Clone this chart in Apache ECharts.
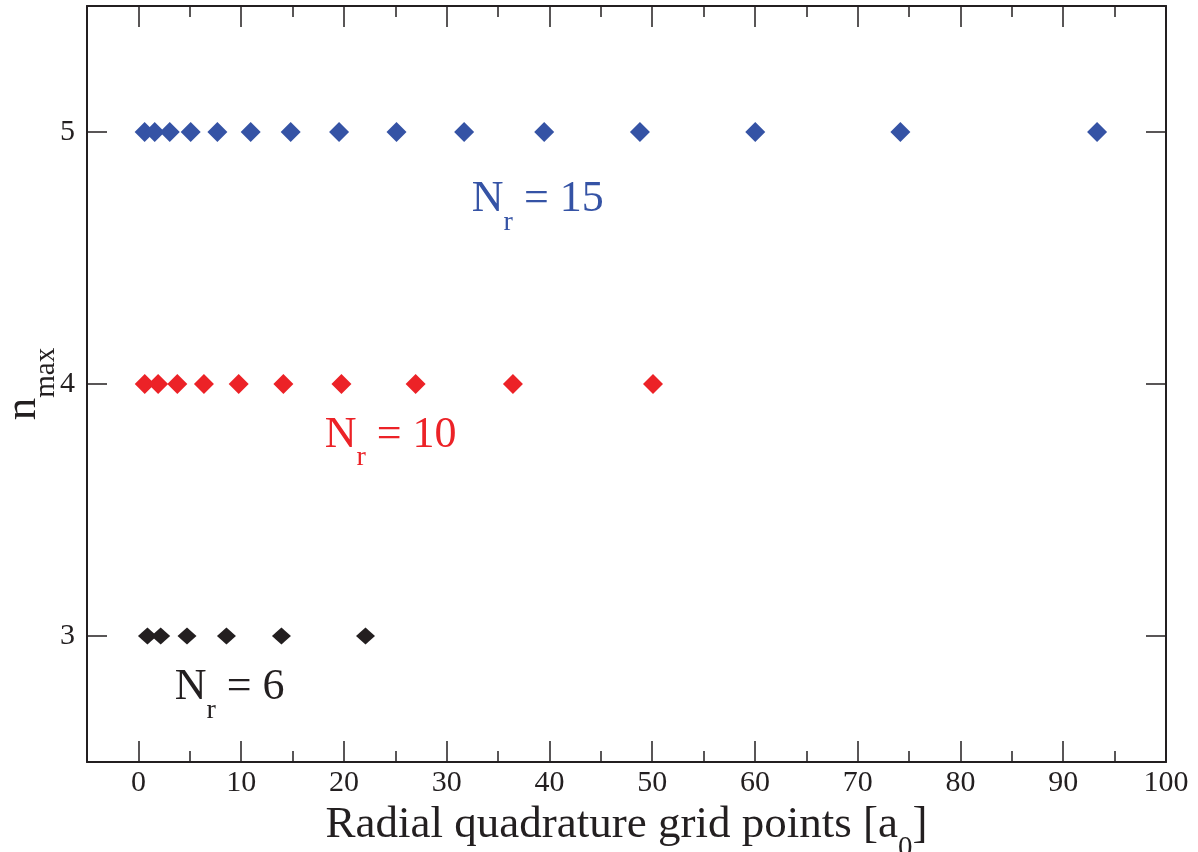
<!DOCTYPE html>
<html>
<head>
<meta charset="utf-8">
<script src="https://cdn.jsdelivr.net/npm/echarts@6/dist/echarts.min.js"></script>
<style>
  html, body { margin: 0; padding: 0; background: #fff; }
  #chart { width: 1198px; height: 852px; }
</style>
</head>
<body>
<div id="chart"></div>
<script>
// quadrature grid points (a0) for each n_max
const nmax = [3, 4, 5]
const pointsNr6 = [0.88, 2.17, 4.73, 8.57, 13.92, 22.1]
const pointsNr10 = [0.62, 1.92, 3.79, 6.38, 9.76, 14.11, 19.76, 26.98, 36.45, 50.08]
const pointsNr15 = [0.61, 1.59, 3.05, 5.09, 7.69, 10.93, 14.82, 19.53, 25.12, 31.7, 39.49, 48.81, 60.03, 74.15, 93.29]

const xMajorTicks = [0, 10, 20, 30, 40, 50, 60, 70, 80, 90, 100]
const xMinorTicks = [5, 15, 25, 35, 45, 55, 65, 75, 85, 95]
const yTicks = [3, 4, 5]

// annotation text and where the N sits (x, y in data units, baseline)
const labelNr = ['6', '10', '15']
const labelX = [3.53, 18.13, 32.45]
const labelY = [2.736, 3.738, 4.673]

const ink = '#231f20'
const colors = ['#231f20', '#ec2227', '#3553a5']
const serif = 'Liberation Serif, Times New Roman, serif'

const richSub = {
  n: { fontSize: 44, lineHeight: 44, fontFamily: serif, verticalAlign: 'top' },
  s: { fontSize: 28, lineHeight: 28, fontFamily: serif, verticalAlign: 'top', padding: [31, 0, 0, 0] },
}
const richTitle = {
  n: { ...richSub.n, fontSize: 45 },
  s: { ...richSub.s, fontSize: 29 },
}

const chart = echarts.init(document.getElementById('chart'))

const xBase = { type: 'value', min: -5, max: 100, splitLine: { show: false } }
const yBase = { type: 'value', min: 2.5, max: 5.5, splitLine: { show: false } }
const axisLine = { show: true, onZero: false, lineStyle: { color: ink, width: 2 } }
const noLine = { show: false, onZero: false }
const tickLine = { color: ink, width: 1.5 }

const series = [pointsNr6, pointsNr10, pointsNr15].map((pts, i) => ({
  type: 'scatter',
  xAxisIndex: 0,
  yAxisIndex: 0,
  symbol: 'diamond',
  symbolSize: i === 0 ? [19, 17] : [20, 20],
  itemStyle: { color: colors[i], opacity: 1 },
  data: pts.map((x) => [x, nmax[i]]),
}))

chart.setOption({
  animation: false,
  grid: { left: 87, right: 32, top: 6, bottom: 90, containLabel: false, outerBoundsMode: 'none' },
  xAxis: [
    {
      ...xBase, position: 'bottom',
      axisLine,
      axisTick: { inside: true, length: 21, customValues: xMajorTicks, lineStyle: tickLine },
      axisLabel: { customValues: xMajorTicks, color: ink, fontSize: 30, fontFamily: serif, margin: 6 },
      name: '{n|Radial quadrature grid points [a}{s|0}{n|]}',
      nameLocation: 'middle',
      nameGap: 36,
      nameTextStyle: { color: ink, rich: richTitle },
    },
    {
      ...xBase, position: 'bottom',
      axisLine: noLine,
      axisTick: { inside: true, length: 11, customValues: xMinorTicks, lineStyle: tickLine },
      axisLabel: { show: false },
    },
    {
      ...xBase, position: 'top',
      axisLine,
      axisTick: { inside: true, length: 21, customValues: xMajorTicks, lineStyle: tickLine },
      axisLabel: { show: false },
    },
    {
      ...xBase, position: 'top',
      axisLine: noLine,
      axisTick: { inside: true, length: 11, customValues: xMinorTicks, lineStyle: tickLine },
      axisLabel: { show: false },
    },
  ],
  yAxis: [
    {
      ...yBase, position: 'left',
      axisLine,
      axisTick: { inside: true, length: 20, customValues: yTicks, lineStyle: tickLine },
      axisLabel: { customValues: yTicks, color: ink, fontSize: 30, fontFamily: serif, margin: 12 },
      name: '{n|n}{s|max}',
      nameLocation: 'middle',
      nameGap: 42,
      nameMoveOverlap: false,
      nameTextStyle: { color: ink, rich: richTitle },
    },
    {
      ...yBase, position: 'right',
      axisLine,
      axisTick: { inside: true, length: 20, customValues: yTicks, lineStyle: tickLine },
      axisLabel: { show: false },
    },
  ],
  series,
})

// N_r annotations, anchored at the N baseline
const graphic = labelNr.map((nr, i) => {
  const [px, py] = chart.convertToPixel({ xAxisIndex: 0, yAxisIndex: 0 }, [labelX[i], labelY[i]])
  return {
    type: 'text',
    x: px,
    y: py - 37,
    style: {
      text: '{n|N}{s|r}{n| = ' + nr + '}',
      fill: colors[i],
      rich: richSub,
    },
  }
})
chart.setOption({ graphic })
</script>
</body>
</html>
